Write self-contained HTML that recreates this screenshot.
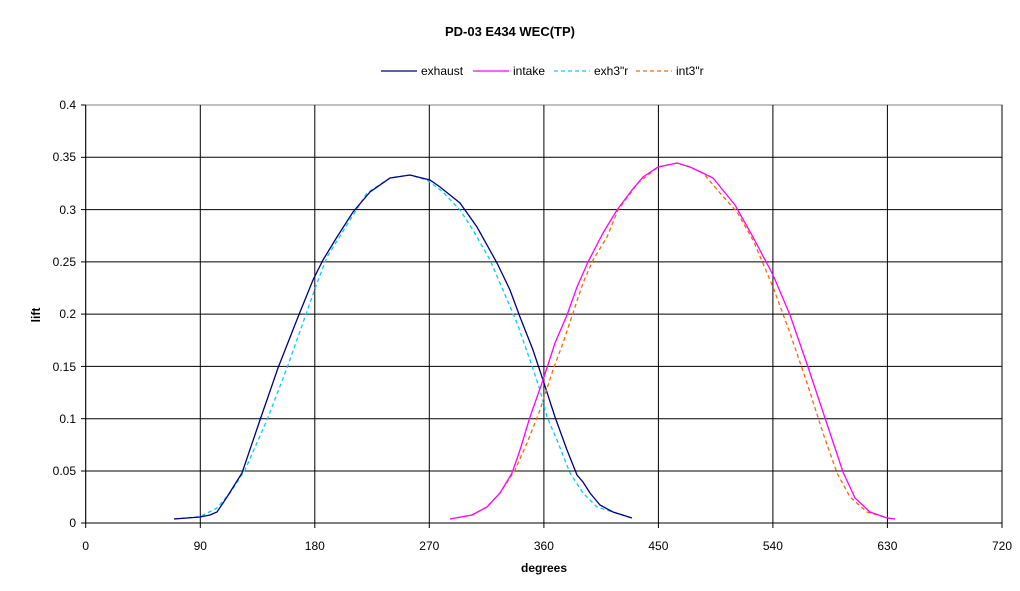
<!DOCTYPE html>
<html><head><style>body{margin:0;background:#fff}svg{display:block}text{font-family:"Liberation Sans",Arial,sans-serif;fill:#000}</style></head>
<body>
<svg width="1020" height="591" viewBox="0 0 1020 591">
<rect x="0" y="0" width="1020" height="591" fill="#fff"/>
<text x="510" y="36" font-size="13" font-weight="bold" text-anchor="middle">PD-03 E434 WEC(TP)</text>
<g font-size="12">
<line x1="381" y1="71" x2="417" y2="71" stroke="#000080" stroke-width="1.3"/><text x="421" y="75">exhaust</text>
<line x1="473" y1="71" x2="509" y2="71" stroke="#ff00ff" stroke-width="1.3"/><text x="513" y="75">intake</text>
<line x1="554" y1="71" x2="590" y2="71" stroke="#00ccff" stroke-width="1.3" stroke-dasharray="4,3"/><text x="594" y="75">exh3"r</text>
<line x1="636" y1="71" x2="672" y2="71" stroke="#ff6600" stroke-width="1.3" stroke-dasharray="4,3"/><text x="676" y="75">int3"r</text>
</g>
<rect x="85.7" y="105" width="916.3" height="418" fill="none" stroke="#808080" stroke-width="1"/>
<g stroke="#000" stroke-width="1">
<line x1="85.7" y1="157.3" x2="1002" y2="157.3"/><line x1="85.7" y1="209.6" x2="1002" y2="209.6"/><line x1="85.7" y1="261.9" x2="1002" y2="261.9"/><line x1="85.7" y1="314.1" x2="1002" y2="314.1"/><line x1="85.7" y1="366.4" x2="1002" y2="366.4"/><line x1="85.7" y1="418.7" x2="1002" y2="418.7"/><line x1="85.7" y1="471" x2="1002" y2="471"/>
<line x1="200.3" y1="105" x2="200.3" y2="528"/><line x1="314.8" y1="105" x2="314.8" y2="528"/><line x1="429.3" y1="105" x2="429.3" y2="528"/><line x1="543.9" y1="105" x2="543.9" y2="528"/><line x1="658.4" y1="105" x2="658.4" y2="528"/><line x1="772.9" y1="105" x2="772.9" y2="528"/><line x1="887.4" y1="105" x2="887.4" y2="528"/><line x1="1002" y1="105" x2="1002" y2="528"/>
<line x1="85.7" y1="523" x2="1002" y2="523"/><line x1="85.7" y1="105" x2="85.7" y2="523"/>
<line x1="81" y1="105" x2="85.7" y2="105"/><line x1="81" y1="157.3" x2="85.7" y2="157.3"/><line x1="81" y1="209.6" x2="85.7" y2="209.6"/><line x1="81" y1="261.9" x2="85.7" y2="261.9"/><line x1="81" y1="314.1" x2="85.7" y2="314.1"/><line x1="81" y1="366.4" x2="85.7" y2="366.4"/><line x1="81" y1="418.7" x2="85.7" y2="418.7"/><line x1="81" y1="471" x2="85.7" y2="471"/><line x1="81" y1="523" x2="85.7" y2="523"/>
<line x1="85.7" y1="523" x2="85.7" y2="528"/>
</g>
<g font-size="12" text-anchor="end">
<text x="76" y="109">0.4</text><text x="76" y="161">0.35</text><text x="76" y="214">0.3</text><text x="76" y="266">0.25</text><text x="76" y="318">0.2</text><text x="76" y="371">0.15</text><text x="76" y="423">0.1</text><text x="76" y="475">0.05</text><text x="76" y="527">0</text>
</g>
<g font-size="12" text-anchor="middle">
<text x="85.7" y="550">0</text><text x="200.3" y="550">90</text><text x="314.8" y="550">180</text><text x="429.3" y="550">270</text><text x="543.9" y="550">360</text><text x="658.4" y="550">450</text><text x="772.9" y="550">540</text><text x="887.4" y="550">630</text><text x="1002" y="550">720</text>
</g>
<text x="544" y="572" font-size="12" font-weight="bold" text-anchor="middle">degrees</text>
<text x="0" y="0" font-size="12" font-weight="bold" text-anchor="middle" transform="translate(40,315) rotate(-90)">lift</text>
<g fill="none" stroke-width="1.3">
<polyline stroke="#00ccff" stroke-dasharray="4,3" points="174,519 200,516.7 217,508 230,493 245,470 267,420 287,368 305,317 317,283 327,257 350,220 367,193 390,178 410,175 427,180 443,192 460,210 473,230 490,260 503,290 517,323 530,360 540,390 547,417 557,440 570,473 583,493 597,507 632,518"/>
<polyline stroke="#000080" points="174,519 200,517 210,515 217,512 227,497 242,473 260,420 278,368 298,317 313,280 323,260 337,237 353,212 370,192 390,178 410,175 430,180 440,187 460,203 477,227 497,263 510,290 520,317 533,350 543,380 555,417 567,450 577,475 583,482 590,493 600,505 613,512 632,518"/>
<polyline stroke="#ff6600" stroke-dasharray="4,3" points="450,519 472,515 487,507 500,493 515,470 527,443 540,410 553,370 563,343 573,313 583,283 593,260 607,237 618,210 638,183 658,167 677,163 690,167 703,173 720,193 737,212 753,240 773,287 790,333 807,383 823,433 837,473 850,497 867,512 888,518 893,519"/>
<polyline stroke="#ff00ff" points="450,519 472,515 487,507 500,493 512,473 520,450 530,417 543,380 555,343 567,315 577,287 588,262 603,233 617,210 632,190 643,177 658,167 677,163 690,167 713,178 735,205 753,237 773,275 790,315 808,367 825,418 843,472 855,498 870,512 887,518 895,519"/>
</g>
</svg>
</body></html>
